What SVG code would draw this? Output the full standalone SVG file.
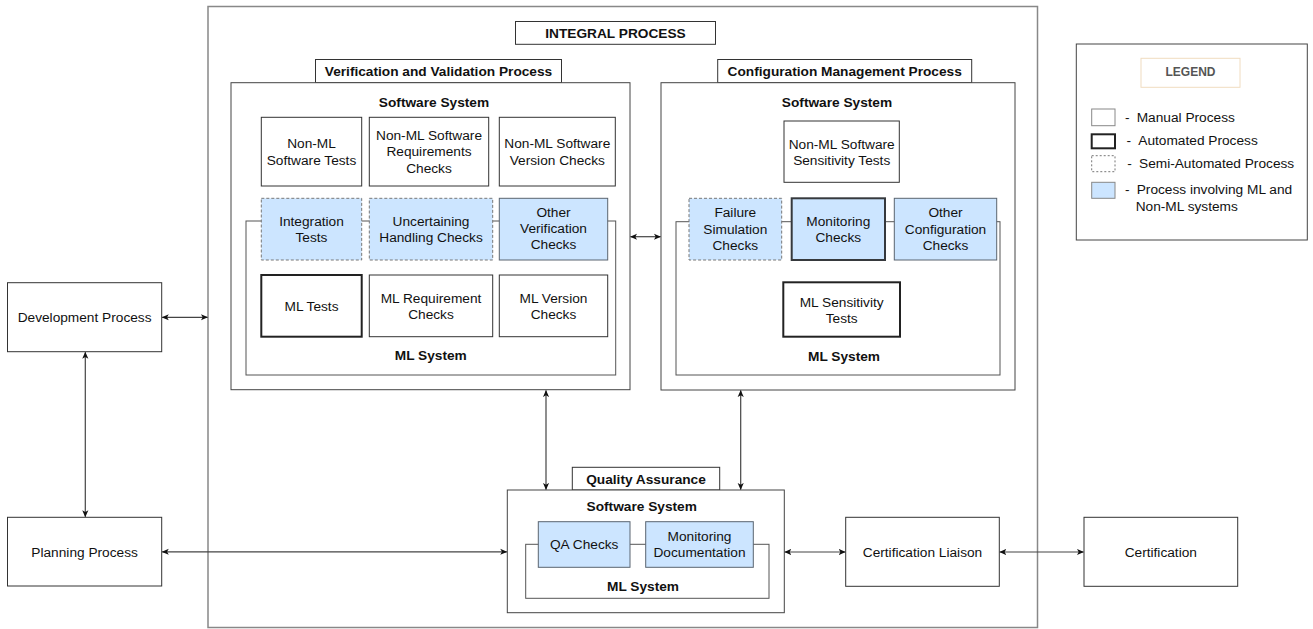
<svg xmlns="http://www.w3.org/2000/svg" width="1313" height="629" viewBox="0 0 1313 629">
<style>
text{font-family:"Liberation Sans",Arial,sans-serif;font-size:13.7px;fill:#111;text-anchor:middle}
.b{font-weight:bold}
.l{text-anchor:start}
.box{fill:#fff;stroke:#333;stroke-width:1}
.outer{fill:#fff;stroke:#888;stroke-width:1.5}
.grp{fill:#fff;stroke:#444;stroke-width:1}
.ml{fill:none;stroke:#555;stroke-width:1}
.auto{fill:#fff;stroke:#222;stroke-width:2}
.semi{fill:#cce5ff;stroke:#777;stroke-width:1;stroke-dasharray:3 2}
.blue{fill:#cce5ff;stroke:#5a6470;stroke-width:1}
.blueauto{fill:#cce5ff;stroke:#36393d;stroke-width:2}
.conn{fill:none;stroke:#444;stroke-width:1.2}
</style>
<defs>
<marker id="ah" viewBox="0 0 8 8" refX="7.5" refY="4" markerWidth="7" markerHeight="7" markerUnits="userSpaceOnUse" orient="auto-start-reverse">
<path d="M0,0.5 L8,4 L0,7.5 L2,4 Z" fill="#111"/>
</marker>
</defs>
<rect width="1313" height="629" fill="#fff"/>

<g id="integral">
<rect class="outer" x="208" y="6.5" width="829.5" height="621"/>
<rect class="box" x="515.5" y="21.5" width="200" height="22.8"/>
<text class="b" x="615.5" y="37.5">INTEGRAL PROCESS</text>
</g>

<g id="dev">
<rect class="box" x="7.5" y="282.7" width="154.2" height="69"/>
<text x="84.6" y="322">Development Process</text>
</g>
<g id="planning">
<rect class="box" x="7.5" y="517.3" width="154.2" height="68.7"/>
<text x="84.6" y="556.5">Planning Process</text>
</g>
<g id="certliaison">
<rect class="box" x="845.7" y="517.3" width="153.6" height="69"/>
<text x="922.5" y="556.5">Certification Liaison</text>
</g>
<g id="certification">
<rect class="box" x="1084" y="517.3" width="153.7" height="69"/>
<text x="1160.8" y="556.5">Certification</text>
</g>

<g id="vv">
<rect class="box" x="315.5" y="59.5" width="246" height="23.2"/>
<text class="b" x="438.5" y="76">Verification and Validation Process</text>
<rect class="grp" x="231" y="82.7" width="399" height="307"/>
<text class="b" x="434" y="107">Software System</text>
<rect class="ml" x="246" y="221" width="369.7" height="154"/>
<text class="b" x="430.8" y="360">ML System</text>
</g>
<g id="vv-nonml-tests">
<rect class="box" x="261.3" y="117.3" width="100.4" height="68.7"/>
<text x="311.5" y="148">Non-ML</text><text x="311.5" y="164.7">Software Tests</text>
</g>
<g id="vv-nonml-req">
<rect class="box" x="369.3" y="117.3" width="119.4" height="68.7"/>
<text x="429" y="139.8">Non-ML Software</text><text x="429" y="156.3">Requirements</text><text x="429" y="172.5">Checks</text>
</g>
<g id="vv-nonml-ver">
<rect class="box" x="499.3" y="117.3" width="116" height="68.7"/>
<text x="557.3" y="148">Non-ML Software</text><text x="557.3" y="164.7">Version Checks</text>
</g>
<g id="vv-integration">
<rect class="semi" x="261.3" y="198.3" width="100.4" height="61.7"/>
<text x="311.5" y="225.5">Integration</text><text x="311.5" y="241.5">Tests</text>
</g>
<g id="vv-uncert">
<rect class="semi" x="369.3" y="198.3" width="123.4" height="61.7"/>
<text x="431" y="225.5">Uncertaining</text><text x="431" y="241.5">Handling Checks</text>
</g>
<g id="vv-other">
<rect class="blue" x="499.3" y="198.3" width="108.4" height="61.7"/>
<text x="553.5" y="216.5">Other</text><text x="553.5" y="232.8">Verification</text><text x="553.5" y="248.8">Checks</text>
</g>
<g id="vv-mltests">
<rect class="auto" x="261.3" y="275" width="100.4" height="61.7"/>
<text x="311.5" y="310.6">ML Tests</text>
</g>
<g id="vv-mlreq">
<rect class="box" x="369.3" y="275" width="123.4" height="61.7"/>
<text x="431" y="302.5">ML Requirement</text><text x="431" y="318.8">Checks</text>
</g>
<g id="vv-mlver">
<rect class="box" x="499.3" y="275" width="108.4" height="61.7"/>
<text x="553.5" y="302.5">ML Version</text><text x="553.5" y="318.8">Checks</text>
</g>

<g id="cm">
<rect class="box" x="717.7" y="59.5" width="254" height="23.2"/>
<text class="b" x="844.7" y="76">Configuration Management Process</text>
<rect class="grp" x="661" y="82.7" width="354" height="307.3"/>
<text class="b" x="837" y="107">Software System</text>
<rect class="ml" x="676" y="221.7" width="324" height="153.3"/>
<text class="b" x="844" y="360.5">ML System</text>
</g>
<g id="cm-nonml-sens">
<rect class="box" x="784" y="121" width="115.3" height="61.3"/>
<text x="841.7" y="149">Non-ML Software</text><text x="841.7" y="164.8">Sensitivity Tests</text>
</g>
<g id="cm-failure">
<rect class="semi" x="689" y="198.3" width="92.7" height="61.7"/>
<text x="735.3" y="217">Failure</text><text x="735.3" y="233.5">Simulation</text><text x="735.3" y="249.8">Checks</text>
</g>
<g id="cm-monitoring">
<rect class="blueauto" x="791.7" y="198.3" width="93.3" height="61.7"/>
<text x="838.3" y="225.5">Monitoring</text><text x="838.3" y="241.8">Checks</text>
</g>
<g id="cm-other">
<rect class="blue" x="894.3" y="198.3" width="102.4" height="61.7"/>
<text x="945.5" y="217">Other</text><text x="945.5" y="233.5">Configuration</text><text x="945.5" y="249.8">Checks</text>
</g>
<g id="cm-mlsens">
<rect class="auto" x="783.3" y="282.3" width="116.7" height="54.4"/>
<text x="841.7" y="306.5">ML Sensitivity</text><text x="841.7" y="322.8">Tests</text>
</g>

<g id="qa">
<rect class="box" x="572.3" y="467.3" width="147.4" height="22.7"/>
<text class="b" x="646" y="483.5">Quality Assurance</text>
<rect class="grp" x="507.3" y="490" width="277" height="122.7"/>
<text class="b" x="641.7" y="510.5">Software System</text>
<rect class="ml" x="525.7" y="544.3" width="243.3" height="54"/>
<text class="b" x="643" y="590.5">ML System</text>
</g>
<g id="qa-checks">
<rect class="blue" x="538.3" y="521.7" width="91.7" height="45.6"/>
<text x="584.2" y="549.3">QA Checks</text>
</g>
<g id="qa-mondoc">
<rect class="blue" x="645.7" y="521.7" width="107.6" height="45.6"/>
<text x="699.5" y="540.8">Monitoring</text><text x="699.5" y="557.3">Documentation</text>
</g>

<g id="legend">
<rect fill="#fff" stroke="#444" stroke-width="1" x="1076.3" y="44" width="231" height="196"/>
<rect fill="#fff" stroke="#f0dcc0" stroke-width="1" x="1141" y="58.3" width="99" height="29"/>
<text class="b" x="1190.5" y="76" style="font-size:12px;fill:#555">LEGEND</text>
<rect fill="#fff" stroke="#888" stroke-width="1" x="1091.7" y="109" width="23.3" height="16.7"/>
<text class="l" x="1125" y="122.2">-</text><text class="l" x="1136.7" y="122.2">Manual Process</text>
<rect fill="#fff" stroke="#222" stroke-width="2" x="1091.7" y="134.3" width="23.3" height="14"/>
<text class="l" x="1126.5" y="145">-</text><text class="l" x="1138.3" y="145">Automated Process</text>
<rect fill="#fff" stroke="#777" stroke-width="1" stroke-dasharray="2 2" x="1091.7" y="155.7" width="23.3" height="16"/>
<text class="l" x="1127.3" y="168.2">-</text><text class="l" x="1139" y="168.2">Semi-Automated Process</text>
<rect fill="#cce5ff" stroke="#888" stroke-width="1" x="1091.7" y="182.3" width="23.3" height="16"/>
<text class="l" x="1125" y="194">-</text><text class="l" x="1136.7" y="194">Process involving ML and</text>
<text class="l" x="1135.7" y="210.6">Non-ML systems</text>
</g>

<g id="connectors">
<line class="conn" x1="162.2" y1="317.3" x2="207.5" y2="317.3" marker-start="url(#ah)" marker-end="url(#ah)"/>
<line class="conn" x1="85.3" y1="352.2" x2="85.3" y2="516.8" marker-start="url(#ah)" marker-end="url(#ah)"/>
<line class="conn" x1="162.2" y1="551.8" x2="506.8" y2="551.8" marker-start="url(#ah)" marker-end="url(#ah)"/>
<line class="conn" x1="630.5" y1="236.7" x2="660.5" y2="236.7" marker-start="url(#ah)" marker-end="url(#ah)"/>
<line class="conn" x1="546" y1="390.5" x2="546" y2="489.5" marker-start="url(#ah)" marker-end="url(#ah)"/>
<line class="conn" x1="740.7" y1="390.5" x2="740.7" y2="489.5" marker-start="url(#ah)" marker-end="url(#ah)"/>
<line class="conn" x1="784.8" y1="552" x2="845.2" y2="552" marker-start="url(#ah)" marker-end="url(#ah)"/>
<line class="conn" x1="999.8" y1="552" x2="1083.5" y2="552" marker-start="url(#ah)" marker-end="url(#ah)"/>
</g>
</svg>
